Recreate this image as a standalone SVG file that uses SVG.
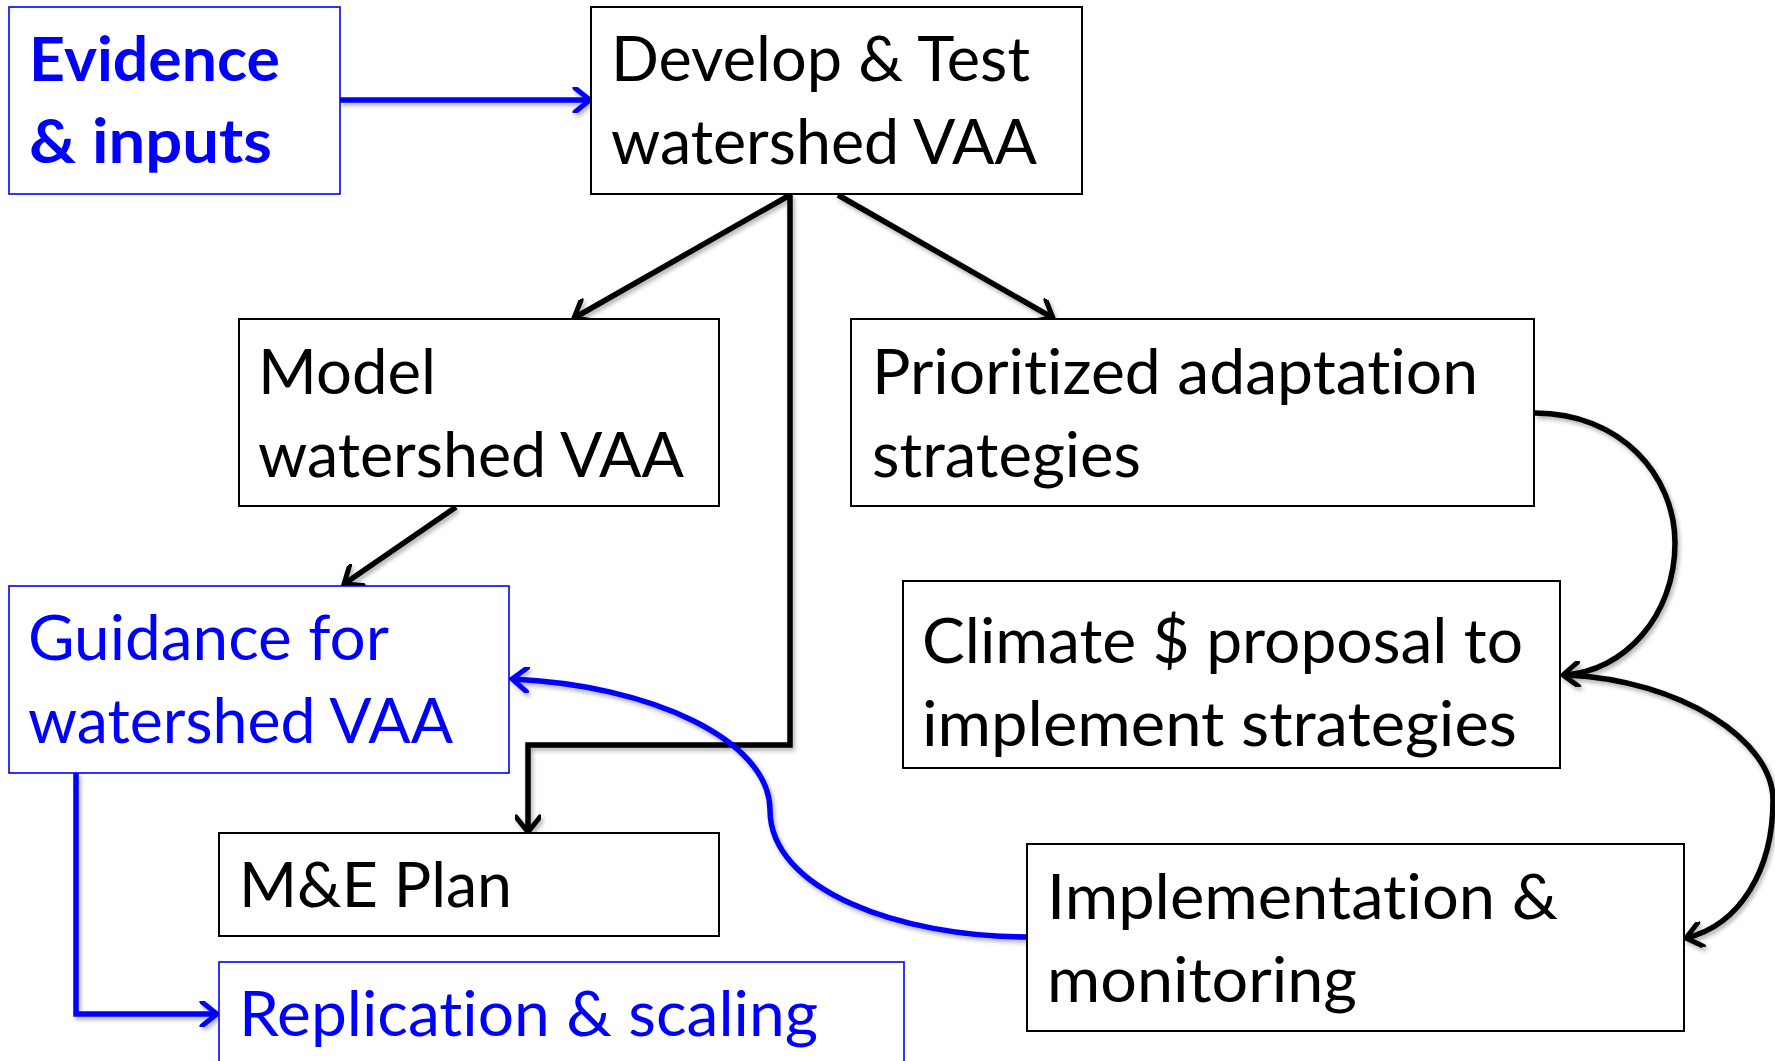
<svg xmlns="http://www.w3.org/2000/svg" width="1775" height="1061" viewBox="0 0 1775 1061">
<style>
.box{fill:#fff;stroke:#000;stroke-width:2}
.bbox{fill:#fff;stroke:#0000ff;stroke-width:1.6}
.t{font-family:Lato,"Open Sans","Liberation Sans",sans-serif;font-size:62px;fill:#000;font-variant-ligatures:none;font-feature-settings:"liga" 0}
.tb{fill:#0000ff}
.bold{font-weight:bold}
.k{fill:none;stroke:#000;stroke-width:5.5;stroke-linejoin:miter}
.bl{fill:none;stroke:#0000ff;stroke-width:5.5;stroke-linejoin:miter}
</style>
<defs>
<filter id="sh" x="-10%" y="-10%" width="120%" height="120%">
<feDropShadow dx="2" dy="3" stdDeviation="2" flood-color="#000" flood-opacity="0.3"/>
</filter>
<marker id="ak" viewBox="0 0 26 26" refX="23" refY="13" markerWidth="26" markerHeight="26" markerUnits="userSpaceOnUse" orient="auto">
<path d="M8,1 L23,13 L8,25" fill="none" stroke="#000" stroke-width="5" stroke-linecap="round" stroke-linejoin="miter"/>
</marker>
<marker id="ab" viewBox="0 0 26 26" refX="23" refY="13" markerWidth="26" markerHeight="26" markerUnits="userSpaceOnUse" orient="auto">
<path d="M8,1 L23,13 L8,25" fill="none" stroke="#0000ff" stroke-width="5" stroke-linecap="round" stroke-linejoin="miter"/>
</marker>
</defs>
<rect width="1775" height="1061" fill="#fff"/>

<g id="connectors" filter="url(#sh)">
<path class="bl" d="M340,100 L590,100" marker-end="url(#ab)"/>
<path class="k" d="M790,195 L574,318" marker-end="url(#ak)"/>
<path class="k" d="M838,195 L1053,318" marker-end="url(#ak)"/>
<path class="k" d="M790,195 L790,745 L528,745 L528,832" marker-end="url(#ak)"/>
<path class="k" d="M456,507 L344,584" marker-end="url(#ak)"/>
<path class="bl" d="M76,773 L76,1014 L217,1014" marker-end="url(#ab)"/>
<path class="k" d="M1535,413 C1620,413 1675,475 1675,543 C1675,615 1625,672 1563,675" marker-end="url(#ak)"/>
<path class="k" d="M1567,675 C1680,680 1773,740 1773,800 C1773,870 1740,925 1686,938" marker-end="url(#ak)"/>
<path class="bl" d="M1027,937 C900,937 770,890 770,810 C770,740 650,685 512,679" marker-end="url(#ab)"/>
</g>

<g id="evidence">
<rect class="bbox" x="9" y="7" width="331" height="187"/>
<text class="t tb bold" x="29" y="81" textLength="251" lengthAdjust="spacingAndGlyphs">Evidence</text>
<text class="t tb bold" x="29" y="163" textLength="243" lengthAdjust="spacingAndGlyphs">&amp; inputs</text>
</g>

<g id="develop">
<rect class="box" x="591" y="7" width="491" height="187"/>
<text class="t" x="611" y="81" textLength="419" lengthAdjust="spacingAndGlyphs">Develop &amp; Test</text>
<text class="t" x="611" y="164" textLength="426" lengthAdjust="spacingAndGlyphs">watershed VAA</text>
</g>

<g id="model">
<rect class="box" x="239" y="319" width="480" height="187"/>
<text class="t" x="258" y="394" textLength="178" lengthAdjust="spacingAndGlyphs">Model</text>
<text class="t" x="258" y="477" textLength="426" lengthAdjust="spacingAndGlyphs">watershed VAA</text>
</g>

<g id="prioritized">
<rect class="box" x="851" y="319" width="683" height="187"/>
<text class="t" x="872" y="394" textLength="606" lengthAdjust="spacingAndGlyphs">Prioritized adaptation</text>
<text class="t" x="872" y="477" textLength="269" lengthAdjust="spacingAndGlyphs">strategies</text>
</g>

<g id="guidance">
<rect class="bbox" x="9" y="586" width="500" height="187"/>
<text class="t tb" x="28" y="660" textLength="361" lengthAdjust="spacingAndGlyphs">Guidance for</text>
<text class="t tb" x="28" y="743" textLength="425" lengthAdjust="spacingAndGlyphs">watershed VAA</text>
</g>

<g id="climate">
<rect class="box" x="903" y="581" width="657" height="187"/>
<text class="t" x="922" y="663" textLength="601" lengthAdjust="spacingAndGlyphs">Climate $ proposal to</text>
<text class="t" x="922" y="746" textLength="595" lengthAdjust="spacingAndGlyphs">implement strategies</text>
</g>

<g id="me-plan">
<rect class="box" x="219" y="833" width="500" height="103"/>
<text class="t" x="239" y="907" textLength="273" lengthAdjust="spacingAndGlyphs">M&amp;E Plan</text>
</g>

<g id="implementation">
<rect class="box" x="1027" y="844" width="657" height="187"/>
<text class="t" x="1047" y="919" textLength="511" lengthAdjust="spacingAndGlyphs">Implementation &amp;</text>
<text class="t" x="1047" y="1002" textLength="310" lengthAdjust="spacingAndGlyphs">monitoring</text>
</g>

<g id="replication">
<rect class="bbox" x="219" y="962" width="685" height="130"/>
<text class="t tb" x="239" y="1036" textLength="579" lengthAdjust="spacingAndGlyphs">Replication &amp; scaling</text>
</g>
</svg>
